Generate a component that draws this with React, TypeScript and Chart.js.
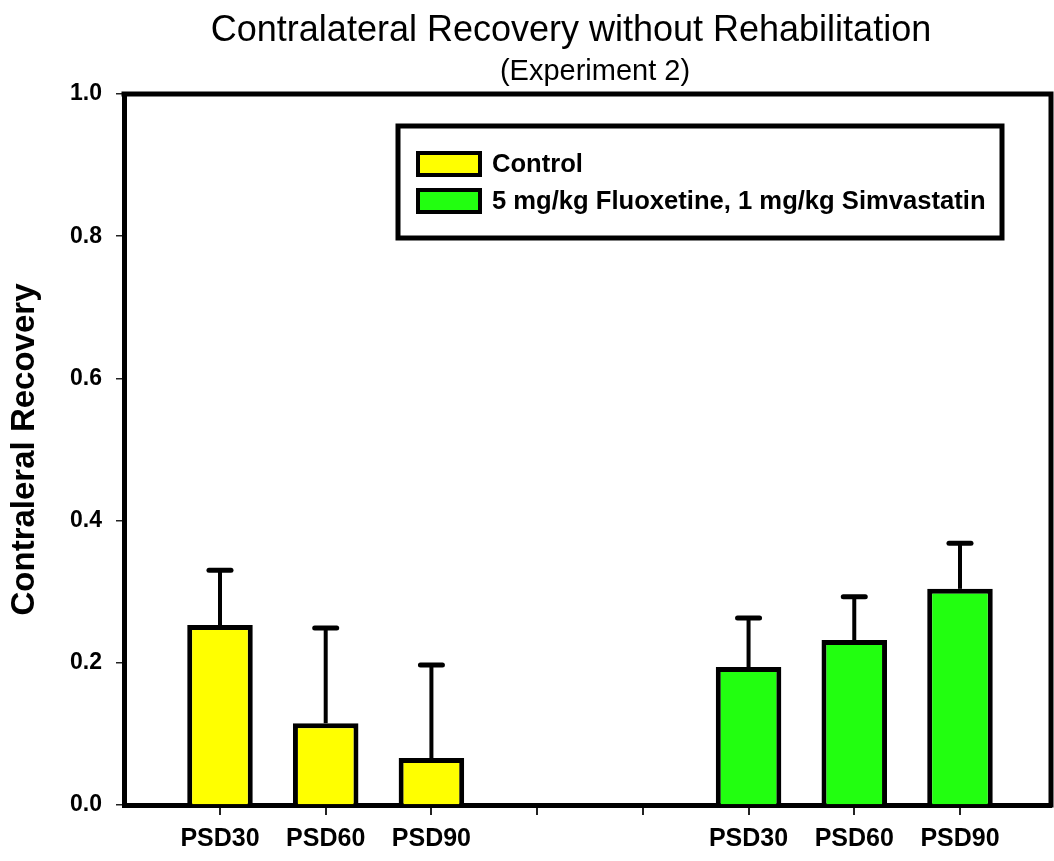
import React, { useEffect, useRef } from 'react';
import { Chart, registerables } from 'chart.js';

Chart.register(...registerables);

const FONT = '"Liberation Sans", Arial, sans-serif';

const titleText = 'Contralateral Recovery without Rehabilitation';
const subtitleText = '(Experiment 2)';
const yAxisTitle = 'Contraleral Recovery';

const xTickLabels = ['PSD30', 'PSD60', 'PSD90', '', '', 'PSD30', 'PSD60', 'PSD90'];
const yTickValues = [0, 0.2, 0.4, 0.6, 0.8, 1.0];

const controlLabel = 'Control';
const controlX = [1, 2, 3];
const controlMeans = [0.253, 0.115, 0.066];
const controlErrors = [0.077, 0.134, 0.131];

const treatedLabel = '5 mg/kg Fluoxetine, 1 mg/kg Simvastatin';
const treatedX = [6, 7, 8];
const treatedMeans = [0.194, 0.232, 0.304];
const treatedErrors = [0.069, 0.061, 0.064];

const controlColor = '#ffff00';
const treatedColor = '#22ff10';

const errorBarPlugin = {
  id: 'errorBars',
  afterDatasetsDraw(chart: any) {
    const ctx = chart.ctx;
    const yScale = chart.scales.y;
    chart.data.datasets.forEach((ds: any, i: number) => {
      const meta = chart.getDatasetMeta(i);
      meta.data.forEach((bar: any, j: number) => {
        const pt = ds.data[j];
        const top = yScale.getPixelForValue(pt.y + ds.errors[j]);
        const x = bar.x;
        ctx.save();
        ctx.strokeStyle = '#000';
        ctx.lineWidth = 4;
        ctx.beginPath();
        ctx.moveTo(x, bar.y);
        ctx.lineTo(x, top);
        ctx.stroke();
        ctx.lineWidth = 5;
        ctx.lineCap = 'round';
        ctx.beginPath();
        ctx.moveTo(x - 11, top);
        ctx.lineTo(x + 11, top);
        ctx.stroke();
        ctx.restore();
      });
    });
  },
};

const framePlugin = {
  id: 'frame',
  afterDraw(chart: any) {
    const { ctx, chartArea } = chart;
    ctx.save();
    ctx.strokeStyle = '#000';
    ctx.lineWidth = 5;
    ctx.beginPath();
    ctx.moveTo(chartArea.left - 2.5, chartArea.top);
    ctx.lineTo(chartArea.right, chartArea.top);
    ctx.lineTo(chartArea.right, chartArea.bottom + 2.5);
    ctx.stroke();
    ctx.restore();
  },
};

const titlePlugin = {
  id: 'titles',
  afterDraw(chart: any) {
    const { ctx } = chart;
    ctx.save();
    ctx.fillStyle = '#000';
    ctx.textAlign = 'center';
    ctx.textBaseline = 'alphabetic';
    ctx.font = `36px ${FONT}`;
    ctx.fillText(titleText, 571, 41);
    ctx.font = `29px ${FONT}`;
    ctx.fillText(subtitleText, 595, 80);
    ctx.restore();
  },
};

const legendPlugin = {
  id: 'boxLegend',
  afterDraw(chart: any) {
    const { ctx, chartArea } = chart;
    const left = chartArea.left + 274;
    const top = chartArea.top + 32;
    const w = 604;
    const h = 112;
    ctx.save();
    ctx.fillStyle = '#fff';
    ctx.fillRect(left, top, w, h);
    ctx.strokeStyle = '#000';
    ctx.lineWidth = 5;
    ctx.strokeRect(left, top, w, h);
    ctx.font = `bold 25.6px ${FONT}`;
    ctx.textBaseline = 'middle';
    ctx.textAlign = 'left';
    chart.data.datasets.forEach((ds: any, i: number) => {
      const cy = top + 38 + i * 37;
      ctx.fillStyle = ds.backgroundColor;
      ctx.fillRect(left + 20, cy - 11, 62, 22);
      ctx.lineWidth = 4;
      ctx.strokeRect(left + 20, cy - 11, 62, 22);
      ctx.fillStyle = '#000';
      ctx.fillText(ds.label, left + 94, cy + 1);
    });
    ctx.restore();
  },
};

export default function App() {
  const canvasRef = useRef<HTMLCanvasElement | null>(null);

  useEffect(() => {
    if (!canvasRef.current) return;
    const chart = new Chart(canvasRef.current, {
      type: 'bar',
      data: {
        datasets: [
          {
            label: controlLabel,
            data: controlX.map((x, i) => ({ x, y: controlMeans[i] })),
            errors: controlErrors,
            backgroundColor: controlColor,
            borderColor: '#000',
            borderWidth: 5,
          } as any,
          {
            label: treatedLabel,
            data: treatedX.map((x, i) => ({ x, y: treatedMeans[i] })),
            errors: treatedErrors,
            backgroundColor: treatedColor,
            borderColor: '#000',
            borderWidth: 5,
          } as any,
        ],
      },
      options: {
        animation: false,
        responsive: false,
        devicePixelRatio: 1,
        grouped: false,
        barPercentage: 0.62,
        categoryPercentage: 1,
        layout: { padding: { top: 94, right: 3, bottom: 0, left: 0 } },
        plugins: {
          legend: { display: false },
          tooltip: { enabled: false },
          title: { display: false },
        },
        scales: {
          x: {
            type: 'linear',
            offset: false,
            min: 0.092,
            max: 8.861,
            afterBuildTicks: (scale: any) => {
              scale.ticks = xTickLabels.map((_, i) => ({ value: i + 1 }));
            },
            afterFit: (scale: any) => {
              scale.height = 56;
            },
            ticks: {
              autoSkip: false,
              maxRotation: 0,
              padding: 9,
              color: '#000',
              font: { family: FONT, size: 25, weight: 'bold' },
              callback: (v: any) => xTickLabels[Math.round(Number(v)) - 1] ?? '',
            },
            grid: {
              offset: false,
              drawOnChartArea: false,
              drawTicks: true,
              tickLength: 10,
              lineWidth: 2,
              color: '#222',
            },
            border: { display: true, color: '#000', width: 5 },
          },
          y: {
            min: 0,
            max: 1,
            afterBuildTicks: (scale: any) => {
              scale.ticks = yTickValues.map((v) => ({ value: v }));
            },
            afterFit: (scale: any) => {
              scale.width = 124;
            },
            ticks: {
              padding: 14,
              color: '#000',
              font: { family: FONT, size: 23, weight: 'bold' },
              callback: (v: any) => Number(v).toFixed(1),
            },
            grid: {
              drawOnChartArea: false,
              drawTicks: true,
              tickLength: 8,
              lineWidth: 1.5,
              color: '#222',
            },
            border: { display: true, color: '#000', width: 5 },
            title: {
              display: true,
              text: yAxisTitle,
              color: '#000',
              font: { family: FONT, size: 33, weight: 'bold' },
              padding: { top: 5, bottom: 0 },
            },
          },
        },
      } as any,
      plugins: [errorBarPlugin, framePlugin, titlePlugin, legendPlugin],
    });
    return () => chart.destroy();
  }, []);

  return (
    <div style={{ position: 'absolute', left: 0, top: 0, width: 1054, height: 861, background: '#fff' }}>
      <canvas ref={canvasRef} width={1054} height={861} style={{ display: 'block' }} />
    </div>
  );
}
